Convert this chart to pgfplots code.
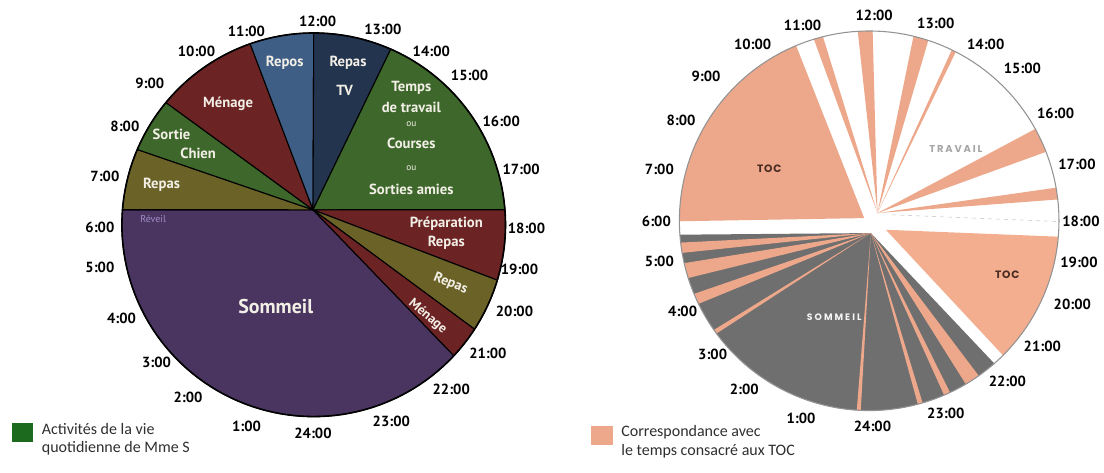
\documentclass[border=0pt]{standalone}
\usepackage{pgfplots}
\pgfplotsset{compat=1.18}
\usepackage{fontspec}
\setmainfont{PT Sans}
\newfontfamily\legfont{Carlito}
\newfontfamily\tocfont[LetterSpace=8]{Poppins}
\newfontfamily\travfont[LetterSpace=18]{Poppins}
\newfontfamily\widefont[LetterSpace=22]{Poppins}
\definecolor{csommeil}{HTML}{4A3560}
\definecolor{colive}{HTML}{6B6228}
\definecolor{cgreen}{HTML}{3E672B}
\definecolor{cred}{HTML}{6B2323}
\definecolor{cblue}{HTML}{3F5E85}
\definecolor{cnavy}{HTML}{23344F}
\definecolor{ctxt}{HTML}{F2EFE6}
\definecolor{creveil}{HTML}{A08CC8}
\definecolor{leggreen}{HTML}{1B6A1E}
\definecolor{salmon}{HTML}{EDA78A}
\definecolor{salmonR}{HTML}{F2AE8E}
\definecolor{sgray}{HTML}{6F6F6F}
\definecolor{toctxt}{HTML}{4A2C22}
\definecolor{legtxt}{HTML}{2F2F2F}
% left pie: circle centre (314,248), r=192, apex (313.3,263)
\newcommand\wedgeL[3]{%
  \addplot[fill=#3, draw=black, line width=0.8pt, line join=round,
    domain=270-15*#2:270-15*#1, samples=80]
    ({314+192*cos(x)},{248+192*sin(x)}) -- (axis cs:313.3,263) -- cycle;}
% right pie: circle centre (870,252), r=190
\newcommand\wedgeR[5]{%
  \addplot[fill=#5, draw=none,
    domain=270-15*#2:270-15*#1, samples=60]
    ({870+190*cos(x)},{252+190*sin(x)}) -- (axis cs:#3,#4) -- cycle;}
\newcommand\hr[3]{\node[font=\bfseries\fontsize{11}{13}\selectfont, text=black] at (axis cs:#1,#2) {#3};}
\newcommand\lab[3]{\node[font=\bfseries\fontsize{11}{13}\selectfont, text=ctxt] at (axis cs:#1,#2) {#3};}
\begin{document}
\begin{tikzpicture}
\begin{axis}[
  scale only axis, width=828pt, height=354.75pt,
  xmin=0, xmax=1104, ymin=0, ymax=473,
  hide axis, clip=false]
\addplot[draw=none] coordinates {(0,0) (1104,473)};
% ---------- left pie ----------
\wedgeL{20.87}{30.3}{csommeil}
\wedgeL{6.3}{7.54}{colive}
\wedgeL{7.54}{8.64}{cgreen}
\wedgeL{8.64}{10.71}{cred}
\wedgeL{10.71}{12.0}{cblue}
\wedgeL{12.0}{13.58}{cnavy}
\wedgeL{13.58}{17.7}{cgreen}
\wedgeL{17.7}{19.12}{cred}
\wedgeL{19.12}{20.2}{colive}
\wedgeL{20.2}{20.87}{cred}
\addplot[draw=black, line width=1.2pt, domain=0:360, samples=160]
  ({314+192*cos(x)},{248+192*sin(x)});
% ---------- right pie ----------
\wedgeR{21.25}{29.72}{871.7}{239.7}{sgray}
\wedgeR{21.65}{21.96}{871.7}{239.7}{salmon}
\wedgeR{22.32}{22.45}{871.7}{239.7}{salmon}
\wedgeR{22.91}{23.01}{871.7}{239.7}{salmon}
\wedgeR{24.17}{24.25}{871.7}{239.7}{salmon}
\wedgeR{27.57}{27.66}{871.7}{239.7}{salmon}
\wedgeR{28.27}{28.49}{871.7}{239.7}{salmon}
\wedgeR{28.83}{29.14}{871.7}{239.7}{salmon}
\wedgeR{29.35}{29.56}{871.7}{239.7}{salmon}
\wedgeR{5.99}{10.49}{865}{254.7}{salmon}
\wedgeR{18.32}{21.01}{886.7}{243}{salmonR}
\wedgeR{10.87}{11.06}{878.3}{259.7}{salmon}
\wedgeR{11.77}{12.07}{878.3}{259.7}{salmon}
\wedgeR{12.90}{13.21}{878.3}{259.7}{salmon}
\wedgeR{13.72}{13.81}{878.3}{259.7}{salmon}
\wedgeR{16.07}{16.58}{878.3}{259.7}{salmon}
\wedgeR{17.33}{17.57}{878.3}{259.7}{salmon}
\addplot[draw=gray!35, dashed, line width=0.5pt] coordinates {(893,258) (1057,251.3)};
\addplot[draw=gray!85, line width=0.8pt, domain=0:360, samples=160]
  ({870+190*cos(x)},{252+190*sin(x)});
% ---------- legend squares ----------
\addplot[fill=leggreen, draw=none] coordinates {(11.7,30.3) (33.3,30.3) (33.3,49.7) (11.7,49.7)} -- cycle;
\addplot[fill=salmon, draw=none] coordinates {(591.7,28) (613.3,28) (613.3,46.3) (591.7,46.3)} -- cycle;
% ---------- left hour labels ----------
\hr{318}{451.3}{12:00}
\hr{246.7}{441.3}{11:00}
\hr{196.7}{421.3}{10:00}
\hr{150}{389.7}{9:00}
\hr{125}{346.3}{8:00}
\hr{105}{296.3}{7:00}
\hr{100}{245}{6:00}
\hr{100}{205}{5:00}
\hr{121.7}{154.7}{4:00}
\hr{156.7}{110.3}{3:00}
\hr{188.3}{75.7}{2:00}
\hr{246.7}{46.3}{1:00}
\hr{313.3}{39.7}{24:00}
\hr{391.7}{51.3}{23:00}
\hr{451.7}{83.7}{22:00}
\hr{488.3}{119}{21:00}
\hr{515}{161.3}{20:00}
\hr{520}{203}{19:00}
\hr{527}{244.7}{18:00}
\hr{521.7}{303}{17:00}
\hr{501.7}{351.3}{16:00}
\hr{470}{398}{15:00}
\hr{431.7}{421.3}{14:00}
\hr{383.3}{443.7}{13:00}
% ---------- right hour labels ----------
\hr{875}{458}{12:00}
\hr{803.3}{448}{11:00}
\hr{753.3}{429}{10:00}
\hr{706.7}{396.3}{9:00}
\hr{681.7}{353}{8:00}
\hr{660}{303}{7:00}
\hr{657}{251}{6:00}
\hr{660}{211}{5:00}
\hr{683.3}{161.3}{4:00}
\hr{713.3}{118}{3:00}
\hr{745}{83}{2:00}
\hr{801.7}{54.7}{1:00}
\hr{873.3}{46.3}{24:00}
\hr{946.7}{59.7}{23:00}
\hr{1008.3}{91.3}{22:00}
\hr{1043.3}{126.3}{21:00}
\hr{1073.3}{168}{20:00}
\hr{1080}{210}{19:00}
\hr{1082}{251}{18:00}
\hr{1078}{308}{17:00}
\hr{1056.7}{359.7}{16:00}
\hr{1023.3}{404.7}{15:00}
\hr{986.7}{429}{14:00}
\hr{936.7}{449.7}{13:00}
% ---------- left slice labels ----------
\lab{285}{410.3}{Repos}
\lab{348.3}{410.3}{Repas}
\lab{345}{382.3}{TV}
\lab{228.3}{369}{Ménage}
\lab{171.7}{338}{Sortie}
\lab{198.3}{319}{Chien}
\lab{161.7}{288}{Repas}
\lab{411.7}{384.7}{Temps}
\lab{411.7}{365.7}{de travail}
\node[font=\fontsize{7}{8}\selectfont, text=ctxt] at (axis cs:411.7,349) {ou};
\lab{411.7}{329}{Courses}
\node[font=\fontsize{7}{8}\selectfont, text=ctxt] at (axis cs:411.7,304.7) {ou};
\lab{411.7}{283.7}{Sorties amies}
\node[font=\fontsize{7.5}{9}\selectfont, text=creveil] at (axis cs:153.3,253.7) {Réveil};
\lab{446.7}{249}{Préparation}
\lab{446.7}{230.3}{Repas}
\node[font=\bfseries\fontsize{10.5}{12}\selectfont, text=ctxt, rotate=-22, inner sep=1pt] at (axis cs:451,189) {Repas};
\node[font=\bfseries\fontsize{10}{12}\selectfont, text=ctxt, rotate=-40, inner sep=1pt] at (axis cs:428,156) {Ménage};
\node[font=\bfseries\fontsize{15}{18}\selectfont, text=ctxt] at (axis cs:276,166.3) {Sommeil};
% ---------- right slice labels ----------
\node[font=\tocfont\bfseries\fontsize{8}{9}\selectfont, text=toctxt] at (axis cs:770,303.7) {TOC};
\node[font=\travfont\bfseries\fontsize{7.5}{9}\selectfont, text=gray!70] at (axis cs:956.7,323.7) {TRAVAIL};
\node[font=\tocfont\bfseries\fontsize{8}{9}\selectfont, text=toctxt] at (axis cs:1008.3,198) {TOC};
\node[font=\widefont\bfseries\fontsize{7}{8}\selectfont, text=white!92!gray] at (axis cs:835,155.7) {SOMMEIL};
% ---------- legend texts ----------
\node[font=\legfont\fontsize{12}{14}\selectfont, text=legtxt, anchor=base west, inner sep=0pt] at (axis cs:41.7,38) {Activités de la vie};
\node[font=\legfont\fontsize{12}{14}\selectfont, text=legtxt, anchor=base west, inner sep=0pt] at (axis cs:41.7,19.7) {quotidienne de Mme S};
\node[font=\legfont\fontsize{12}{14}\selectfont, text=legtxt, anchor=base west, inner sep=0pt] at (axis cs:621.7,35.7) {Correspondance avec};
\node[font=\legfont\fontsize{12}{14}\selectfont, text=legtxt, anchor=base west, inner sep=0pt] at (axis cs:621.7,17) {le temps consacré aux TOC};
\end{axis}
\end{tikzpicture}
\end{document}
